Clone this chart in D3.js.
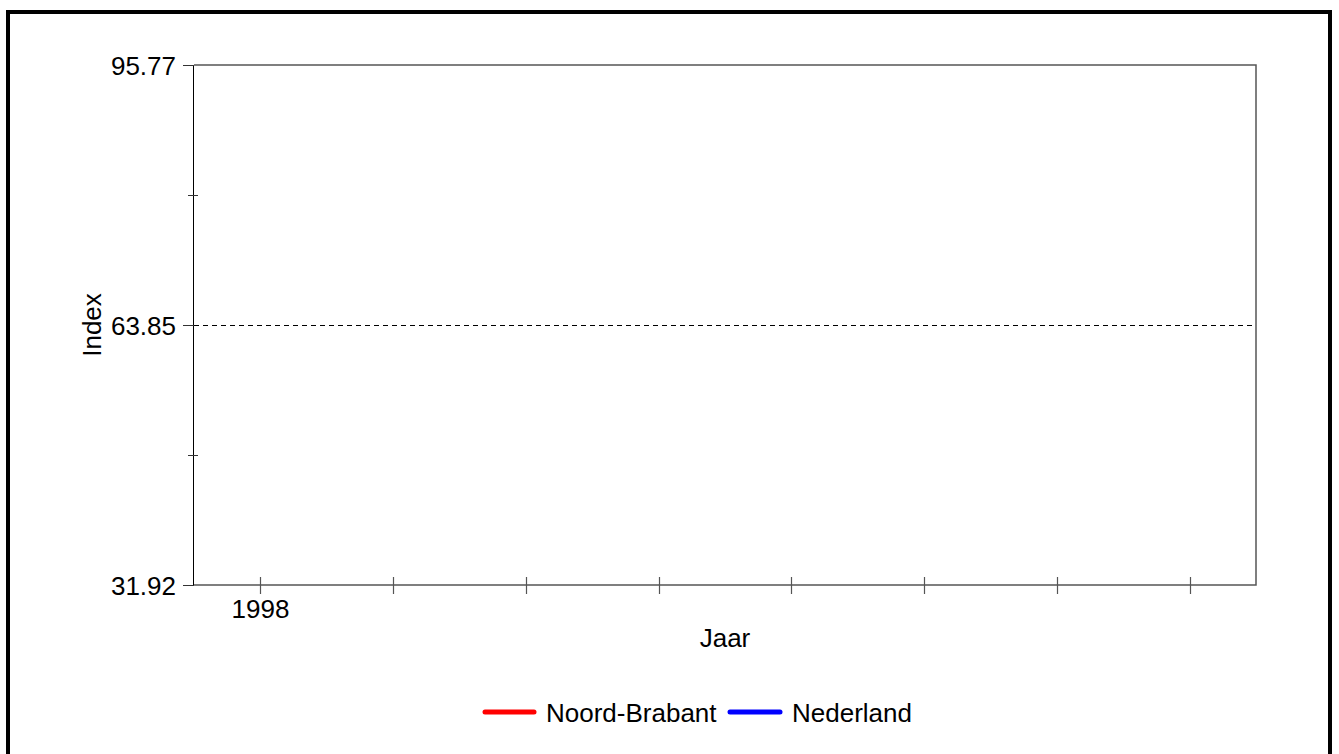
<!DOCTYPE html>
<html>
<head>
<meta charset="utf-8">
<script src="https://cdn.jsdelivr.net/npm/d3@7"></script>
<style>
  html, body { margin: 0; padding: 0; background: #fff; }
  svg { display: block; }
  text { font-family: "Liberation Sans", Arial, sans-serif; fill: #000; }
</style>
</head>
<body>
<svg id="chart" width="1339" height="754"></svg>
<script>
// ---- data ----
const years = [1998, 1999, 2000, 2001, 2002, 2003, 2004, 2005];
const yearLabels = ["1998", "", "", "", "", "", "", ""];
// No visible series values in the reference
const noordBrabant = [null, null, null, null, null, null, null, null];
const nederland = [null, null, null, null, null, null, null, null];
const yTicks = [31.92, 47.88, 63.85, 79.81, 95.77];
const yTickLabels = ["31.92", "", "63.85", "", "95.77"];
const yDomain = [31.92, 95.77];
const xDomain = [1997.5, 2005.5];
const referenceValue = 63.85;
const seriesNames = ["Noord-Brabant", "Nederland"];
const seriesColors = ["#ff0000", "#0000ff"];

// ---- layout ----
const svg = d3.select("#chart");
const L = 194, R = 1256, T = 65, B = 585;
const FS = 26;

// outer frame
svg.append("rect")
  .attr("x", 8).attr("y", 12).attr("width", 1322).attr("height", 800)
  .attr("fill", "none").attr("stroke", "#000").attr("stroke-width", 4);

const x = d3.scaleLinear().domain(xDomain).range([L, R]);
const y = d3.scaleLinear().domain(yDomain).range([B, T]);

// plot frame (top, right, bottom)
svg.append("path")
  .attr("d", `M${L},${T}H${R}V${B}H${L}`)
  .attr("fill", "none").attr("stroke", "#555").attr("stroke-width", 1.5);

// reference dashed line
svg.append("line")
  .attr("x1", L).attr("x2", R)
  .attr("y1", Math.round(y(referenceValue)) + 0.5).attr("y2", Math.round(y(referenceValue)) + 0.5)
  .attr("stroke", "#000").attr("stroke-width", 1).attr("stroke-dasharray", "5,4");

// y axis
const yAxisG = svg.append("g");
yAxisG.append("line")
  .attr("x1", L - 0.5).attr("x2", L - 0.5).attr("y1", T).attr("y2", B)
  .attr("stroke", "#000").attr("stroke-width", 1);
yTicks.forEach((v, i) => {
  const yy = Math.round(y(v)) + 0.5;
  const major = yTickLabels[i] !== "";
  yAxisG.append("line")
    .attr("x1", major ? L - 11 : L - 6).attr("x2", major ? L : L + 4)
    .attr("y1", yy).attr("y2", yy)
    .attr("stroke", "#333").attr("stroke-width", 1);
  if (major) {
    yAxisG.append("text")
      .attr("x", L - 18).attr("y", yy)
      .attr("text-anchor", "end").attr("dominant-baseline", "central")
      .attr("font-size", FS)
      .text(yTickLabels[i]);
  }
});

// x axis ticks
const xAxisG = svg.append("g");
years.forEach((yr, i) => {
  const xx = Math.round(x(yr)) + 0.5;
  xAxisG.append("line")
    .attr("x1", xx).attr("x2", xx).attr("y1", B - 8).attr("y2", B + 9)
    .attr("stroke", "#555").attr("stroke-width", 1.2);
  if (yearLabels[i]) {
    xAxisG.append("text")
      .attr("x", xx).attr("y", 618)
      .attr("text-anchor", "middle").attr("font-size", FS)
      .text(yearLabels[i]);
  }
});

// axis titles
svg.append("text")
  .attr("x", (L + R) / 2).attr("y", 647)
  .attr("text-anchor", "middle").attr("font-size", FS)
  .text("Jaar");
svg.append("text")
  .attr("transform", `translate(101,${(T + B) / 2}) rotate(-90)`)
  .attr("text-anchor", "middle").attr("font-size", FS)
  .text("Index");

// series lines (no drawable values)
const line = d3.line()
  .defined(d => d.v != null)
  .x(d => x(d.year)).y(d => y(d.v));
[noordBrabant, nederland].forEach((vals, si) => {
  svg.append("path")
    .datum(years.map((yr, i) => ({ year: yr, v: vals[i] })))
    .attr("d", line)
    .attr("fill", "none").attr("stroke", seriesColors[si]).attr("stroke-width", 3);
});

// legend
const legendItems = [
  { x1: 485, x2: 534, tx: 546 },
  { x1: 730, x2: 780, tx: 792 }
];
seriesNames.forEach((name, i) => {
  const it = legendItems[i];
  svg.append("line")
    .attr("x1", it.x1).attr("x2", it.x2).attr("y1", 712).attr("y2", 712)
    .attr("stroke", seriesColors[i]).attr("stroke-width", 5)
    .attr("stroke-linecap", "round");
  svg.append("text")
    .attr("x", it.tx).attr("y", 722)
    .attr("font-size", FS)
    .text(name);
});
</script>
</body>
</html>
